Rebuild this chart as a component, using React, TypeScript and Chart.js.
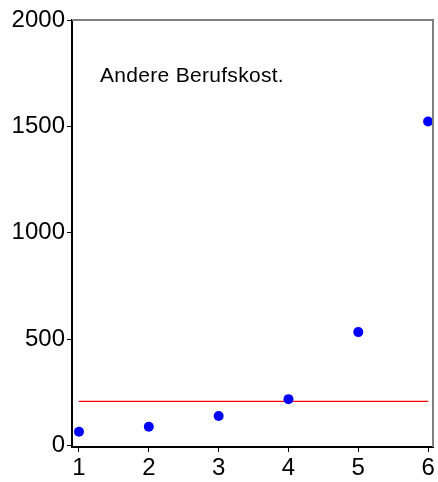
import React, { useEffect, useRef } from "react";
import { Chart, registerables } from "chart.js";

Chart.register(...registerables);

const categories = [1, 2, 3, 4, 5, 6];
const values = [65, 88, 139, 218, 533, 1523];
const refLevel = 207;
const yTicks = [0, 500, 1000, 1500, 2000];
const title = "Andere Berufskost.";

const FAMILY = "'Liberation Sans', Arial, sans-serif";

const frame = {
  id: "frame",
  afterDraw(chart: any) {
    const { ctx, chartArea } = chart;
    ctx.save();
    ctx.strokeStyle = "#808080";
    ctx.lineWidth = 2;
    ctx.beginPath();
    ctx.moveTo(chartArea.left, chartArea.top);
    ctx.lineTo(chartArea.right, chartArea.top);
    ctx.lineTo(chartArea.right, chartArea.bottom);
    ctx.stroke();
    ctx.fillStyle = "#000";
    ctx.font = "21px " + FAMILY;
    ctx.letterSpacing = "0.3px";
    ctx.textBaseline = "middle";
    ctx.textAlign = "left";
    ctx.fillText(title, chartArea.left + 28, chartArea.top + 56);
    ctx.restore();
  },
};

export default function App() {
  const ref = useRef<HTMLCanvasElement>(null);
  useEffect(() => {
    if (!ref.current) return;
    const font = { family: FAMILY, size: 24 };
    const chart = new Chart(ref.current, {
      type: "scatter",
      data: {
        datasets: [
          {
            data: categories.map((c, i) => ({ x: c, y: values[i] })),
            backgroundColor: "#0000ff",
            borderColor: "#0000ff",
            pointRadius: 5,
            pointBorderWidth: 0,
          },
          {
            type: "line",
            data: [
              { x: categories[0], y: refLevel },
              { x: categories[categories.length - 1], y: refLevel },
            ],
            borderColor: "#ff0000",
            borderWidth: 1.3,
            pointRadius: 0,
          } as any,
        ],
      },
      options: {
        animation: false,
        responsive: false,
        layout: { padding: { left: 0, top: 20, right: 5, bottom: 0 } },
        plugins: { legend: { display: false }, tooltip: { enabled: false } },
        scales: {
          x: {
            type: "linear",
            min: 0.9,
            max: 6.07,
            afterBuildTicks: (s: any) => {
              s.ticks = categories.map((v) => ({ value: v }));
            },
            afterFit: (s: any) => {
              s.height = 35;
            },
            grid: { drawOnChartArea: false, drawTicks: true, tickLength: 5, color: "#000" },
            border: { color: "#000", width: 2 },
            ticks: { color: "#000", font, padding: 2, maxRotation: 0, autoSkip: false, callback: (v: any) => String(v) },
          },
          y: {
            type: "linear",
            min: -7,
            max: 2000,
            afterBuildTicks: (s: any) => {
              s.ticks = yTicks.map((v) => ({ value: v }));
            },
            afterFit: (s: any) => {
              s.width = 72;
            },
            grid: { drawOnChartArea: false, drawTicks: true, tickLength: 5, color: "#000" },
            border: { color: "#000", width: 2 },
            ticks: { color: "#000", font, padding: 2, callback: (v: any) => String(v) },
          },
        },
      },
      plugins: [frame],
    });
    return () => chart.destroy();
  }, []);
  return (
    <div style={{ position: "fixed", left: 0, top: 0, width: 438, height: 482, background: "#fff" }}>
      <canvas ref={ref} width={438} height={482} />
    </div>
  );
}
